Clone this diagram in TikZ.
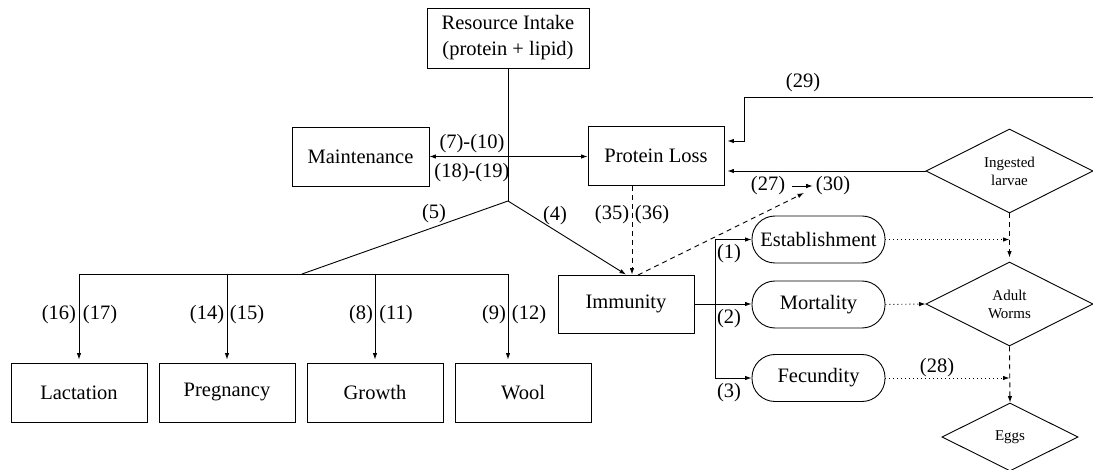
\documentclass[tikz,border=0pt]{standalone}
\usepackage{fontspec}
\setmainfont{Liberation Serif}
\newfontfamily\tnr{Liberation Serif}
\usetikzlibrary{arrows.meta,shapes.geometric,calc}
\begin{document}
\begin{tikzpicture}[x=1pt,y=-1pt,
  every node/.style={font=\tnr\fontsize{20.5}{26}\selectfont, inner sep=0pt},
  box/.style={draw, line width=0.9pt, minimum width=136pt, minimum height=59pt},
  pill/.style={draw, line width=0.9pt, rounded corners=23pt, minimum width=133pt, minimum height=47pt},
  dia/.style={draw, diamond, line width=0.9pt, minimum width=167pt, minimum height=84pt, font=\tnr\fontsize{15}{18}\selectfont, align=center},
  arr/.style={-{Latex[length=6.5pt,width=4.5pt]}, line width=0.9pt},
  ln/.style={line width=0.9pt},
  dsh/.style={dash pattern=on 5pt off 4pt},
  dtt/.style={dash pattern=on 1pt off 3pt}]
\useasboundingbox (0,0) rectangle (1093,470);

% boxes
\node[box, minimum width=162pt, minimum height=60pt, align=center] (intake) at (508,38) {Resource Intake\\(protein + lipid)};
\node[box, minimum width=137pt] (maint) at (360.5,156.5) {Maintenance};
\node[box] (ploss) at (656,156) {Protein Loss};
\node[box, minimum height=58pt] (immun) at (626,304) {Immunity};
\node[box] (lact) at (79,392.5) {Lactation};
\node[box] (preg) at (227,392.5) {Pregnancy};
\node[box] (growth) at (375,392.5) {Growth};
\node[box] (wool) at (523,392.5) {Wool};
\node[pill] (est) at (818.5,239.5) {Establishment};
\node[pill] (mort) at (818.5,304.5) {Mortality};
\node[pill] (fec) at (818.5,378) {Fecundity};
\node[dia] (ing) at (1009.5,171) {Ingested\\larvae};
\node[dia] (adult) at (1009.5,304) {Adult\\Worms};
\node[dia, minimum width=136pt, minimum height=68pt] (eggs) at (1010,437) {Eggs};

% helper coordinates
\coordinate (J) at (508,201);
\coordinate (B) at (302,274);
\coordinate (BL) at (79,274);
\coordinate (BR) at (508,274);
\coordinate (D) at (632,0);
\coordinate (S) at (638,275);
\coordinate (T) at (804,193);
\coordinate (V) at (715,0);
\coordinate (E29) at (1093,97);
\coordinate (K) at (744,97);
\coordinate (P) at (744,141);

% resource allocation
\draw[ln] (intake.south) -- (J);
\draw[{Latex[length=6.5pt,width=4.5pt]}-{Latex[length=6.5pt,width=4.5pt]}, line width=0.9pt] (maint.east) -- (maint.east -| ploss.west);
\draw[ln] (J) -- (B);
\draw[ln] (BL) -- (BR);
\draw[arr, shorten >=3pt] (BL) -- (lact.north);
\draw[arr, shorten >=3pt] (preg.north |- BL) -- (preg.north);
\draw[arr, shorten >=3pt] (growth.north |- BL) -- (growth.north);
\draw[arr, shorten >=3pt] (BR) -- (BR |- wool.north);
\draw[arr] (J) -- (immun.north);
\draw[arr, dsh] (ploss.south -| D) -- (immun.north -| D);
\draw[arr, dsh] (S) -- (T);

% immunity effects
\draw[arr] (immun.east) -- (immun.east -| mort.west);
\draw[arr] (fec.west -| V) -- (est.west -| V) -- (est.west);
\draw[arr] (fec.west -| V) -- (fec.west);

% parasite cycle
\draw[arr, shorten >=3pt] (E29) -- (K) -- (P) -- (P -| ploss.east);
\draw[arr, shorten >=3pt] (ing.west) -- (ing.west -| ploss.east);
\draw[arr, dsh, shorten >=4pt] (ing.south) -- (adult.north);
\draw[arr, dtt] (est.east) -- (est.east -| ing.south);
\draw[arr, dtt] (mort.east) -- (adult.west);
\draw[arr, dsh] (adult.south) -- (eggs.north);
\draw[arr, dtt] (fec.east) -- (fec.east -| adult.south);

% labels
\node (l710) at (472,144) {(7)-(10)};
\node (l1819) at (472,173) {(18)-(19)};
\node (l5) at (434,214) {(5)};
\node (l4) at (555,216) {(4)};
\node (l35) at (612,215) {(35)};
\node (l36) at (652,215) {(36)};
\node (l16) at (59,315) {(16)};
\node (l17) at (100,315) {(17)};
\node (l14) at (207,315) {(14)};
\node (l15) at (247,315) {(15)};
\node (l8) at (361,315) {(8)};
\node (l11) at (396,315) {(11)};
\node (l9) at (494,315) {(9)};
\node (l12) at (529,315) {(12)};
\node (l27) at (768,186) {(27)};
\node (l30) at (833,186) {(30)};
\draw[arr, shorten <=7pt, shorten >=3pt] (l27) -- (l30);
\node (l29) at (803,83) {(29)};
\node (l1) at (729,254) {(1)};
\node (l2) at (729,319) {(2)};
\node (l3) at (729,393) {(3)};
\node (l28) at (937,368) {(28)};
\end{tikzpicture}
\end{document}
